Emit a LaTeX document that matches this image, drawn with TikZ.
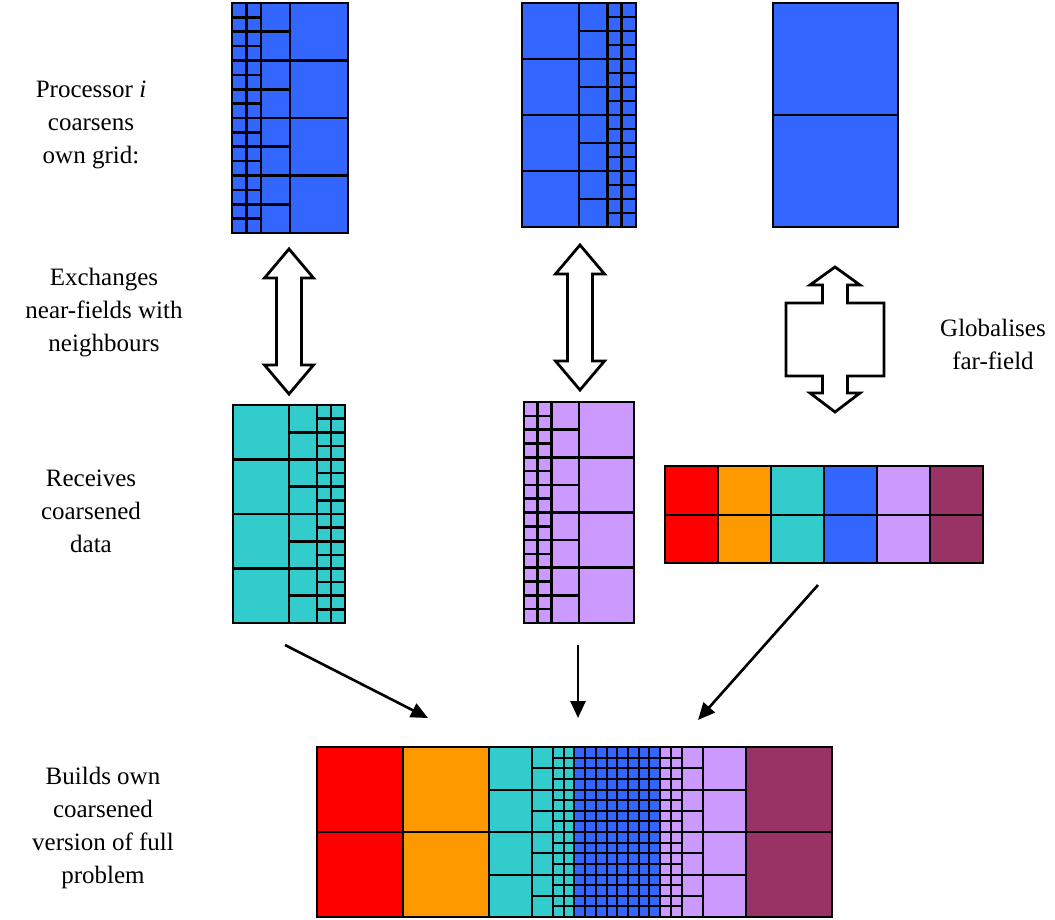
\documentclass[tikz,border=0pt]{standalone}
\usepackage{fontspec}
\setmainfont{Liberation Serif}
\usetikzlibrary{arrows.meta,calc}
\definecolor{cBlue}{RGB}{51,102,255}
\definecolor{cCyan}{RGB}{51,204,204}
\definecolor{cPurple}{RGB}{204,153,255}
\definecolor{cRed}{RGB}{255,0,0}
\definecolor{cOrange}{RGB}{255,153,0}
\definecolor{cMagenta}{RGB}{153,51,102}
% #1 style, #2 colour, #3 x0, #4 y0, #5 width, #6 height, #7 columns, #8 rows
\newcommand\blk[8]{%
  \foreach \ii in {1,...,#7}{\foreach \jj in {1,...,#8}{%
    \draw[#1,fill=#2] ({#3+(\ii-1)*(#5)/(#7)},{#4+(\jj-1)*(#6)/(#8)}) rectangle ++({(#5)/(#7)},{(#6)/(#8)});}}}
\tikzset{
  gridA/.style={draw=black,line width=2.6pt},
  gridB/.style={draw=black,line width=2pt},
  gridbox/.style={inner sep=0pt,anchor=north west},
  lbl/.style={align=center,font=\fontsize{25}{33}\selectfont},
  blockarrow/.style={draw=black,line width=2.8pt,fill=white,line join=miter},
  linearrow/.style={line width=2.6pt,-{Triangle[length=17pt,width=15pt]}}
}
\begin{document}
\begin{tikzpicture}[x=1pt,y=-1pt]
\useasboundingbox (0,0) rectangle (1055,920);
% grid frames (named)
\node[gridbox,minimum width=116pt,minimum height=230pt] (g1) at (232,3) {};
\node[gridbox,minimum width=114pt,minimum height=224pt] (g2) at (522,3) {};
\node[gridbox,minimum width=125pt,minimum height=224pt] (g3) at (773,3) {};
\node[gridbox,minimum width=112pt,minimum height=218pt] (g4) at (233,405) {};
\node[gridbox,minimum width=110pt,minimum height=221pt] (g5) at (524,402) {};
\node[gridbox,minimum width=318pt,minimum height=97pt] (g6) at (665,466) {};
\node[gridbox,minimum width=515pt,minimum height=170pt] (g7) at (317,747) {};
% top-left grid
\blk{gridA}{cBlue}{232}{3}{29}{230}{2}{16}
\blk{gridA}{cBlue}{261}{3}{29}{230}{1}{8}
\blk{gridA}{cBlue}{290}{3}{58}{230}{1}{4}
% top-middle grid
\blk{gridA}{cBlue}{522}{3}{57}{224}{1}{4}
\blk{gridA}{cBlue}{579}{3}{28.5}{224}{1}{8}
\blk{gridA}{cBlue}{607.5}{3}{28.5}{224}{2}{16}
% top-right grid
\blk{gridA}{cBlue}{773}{3}{125}{224}{1}{2}
% cyan grid
\blk{gridA}{cCyan}{233}{405}{56}{218}{1}{4}
\blk{gridA}{cCyan}{289}{405}{28}{218}{1}{8}
\blk{gridA}{cCyan}{317}{405}{28}{218}{2}{16}
% purple grid
\blk{gridA}{cPurple}{524}{402}{27.5}{221}{2}{16}
\blk{gridA}{cPurple}{551.5}{402}{27.5}{221}{1}{8}
\blk{gridA}{cPurple}{579}{402}{55}{221}{1}{4}
% far-field strip
\blk{gridB}{cRed}{665}{466}{53}{97}{1}{2}
\blk{gridB}{cOrange}{718}{466}{53}{97}{1}{2}
\blk{gridB}{cCyan}{771}{466}{53}{97}{1}{2}
\blk{gridB}{cBlue}{824}{466}{53}{97}{1}{2}
\blk{gridB}{cPurple}{877}{466}{53}{97}{1}{2}
\blk{gridB}{cMagenta}{930}{466}{53}{97}{1}{2}
% bottom grid
\blk{gridB}{cRed}{317}{747}{85.8}{170}{1}{2}
\blk{gridB}{cOrange}{402.8}{747}{85.8}{170}{1}{2}
\blk{gridB}{cCyan}{488.6}{747}{42.9}{170}{1}{4}
\blk{gridB}{cCyan}{531.5}{747}{21.45}{170}{1}{8}
\blk{gridB}{cCyan}{552.95}{747}{21.45}{170}{2}{16}
\blk{gridB}{cBlue}{574.4}{747}{85.8}{170}{8}{16}
\blk{gridB}{cPurple}{660.2}{747}{21.45}{170}{2}{16}
\blk{gridB}{cPurple}{681.65}{747}{21.45}{170}{1}{8}
\blk{gridB}{cPurple}{703.1}{747}{42.9}{170}{1}{4}
\blk{gridB}{cMagenta}{746}{747}{86}{170}{1}{2}
% block double arrows
\coordinate (t1) at (289,249);
\coordinate (t2) at (580,245);
\draw[blockarrow] (t1) -- ++(24.5,29) -- ++(-12,0) -- ++(0,87) -- ++(12,0) -- ++(-24.5,29)
  -- ++(-24.5,-29) -- ++(12,0) -- ++(0,-87) -- ++(-12,0) -- cycle;
\draw[blockarrow] (t2) -- ++(24.5,29) -- ++(-12,0) -- ++(0,87) -- ++(12,0) -- ++(-24.5,29)
  -- ++(-24.5,-29) -- ++(12,0) -- ++(0,-87) -- ++(-12,0) -- cycle;
\coordinate (t3) at (835,267);
\draw[blockarrow] (t3) -- ++(25,18) -- ++(-12.5,0) -- ++(0,18) -- ++(36.5,0) -- ++(0,73)
  -- ++(-36.5,0) -- ++(0,17) -- ++(12.5,0) -- ++(-25,19) -- ++(-25,-19) -- ++(12.5,0)
  -- ++(0,-17) -- ++(-36.5,0) -- ++(0,-73) -- ++(36.5,0) -- ++(0,-18) -- ++(-12.5,0) -- cycle;
% line arrows
\coordinate (a1s) at (285,645);
\coordinate (a1e) at (428,718);
\coordinate (a2s) at (578,645);
\coordinate (a2e) at (578,718);
\coordinate (a3s) at (818,585);
\coordinate (a3e) at (698,720);
\draw[linearrow] (a1s) -- (a1e);
\draw[linearrow] (a2s) -- (a2e);
\draw[linearrow] (a3s) -- (a3e);
% labels
\node[lbl] (l1) at (91,125) {Processor \textit{i}\\coarsens\\own grid:};
\node[lbl] (l2) at (104,313) {Exchanges\\near-fields with\\neighbours};
\node[lbl] (l3) at (91,511) {Receives\\coarsened\\data};
\node[lbl] (l4) at (993,344) {Globalises\\far-field};
\node[lbl] (l5) at (103,828) {Builds own\\coarsened\\version of full\\problem};
\end{tikzpicture}
\end{document}
